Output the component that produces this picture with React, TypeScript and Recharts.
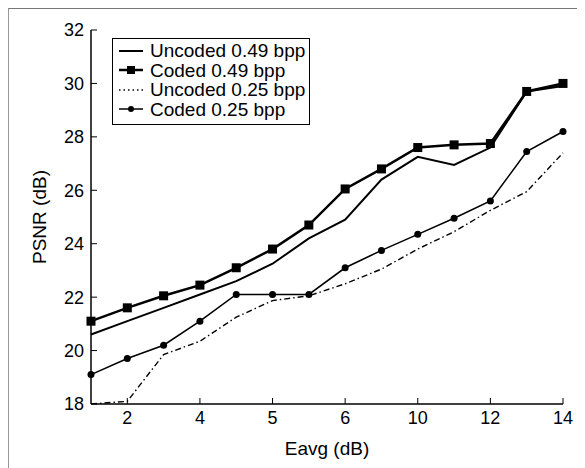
import { LineChart, Line, XAxis, YAxis, Label } from "recharts";

// x positions (index of each Eavg setting) and the labels printed under every other one
const eavgPos = [1, 2, 3, 4, 5, 6, 7, 8, 9, 10, 11, 12, 13, 14];
const xTickPos = [2, 4, 6, 8, 10, 12, 14];
const xTickLabels = ["2", "4", "5", "6", "10", "12", "14"];
const yTicks = [18, 20, 22, 24, 26, 28, 30, 32];

const uncoded049 = [20.6, 21.1, 21.6, 22.1, 22.6, 23.25, 24.2, 24.9, 26.4, 27.25, 26.95, 27.6, 29.7, 29.9];
const coded049 = [21.1, 21.6, 22.05, 22.45, 23.1, 23.8, 24.7, 26.05, 26.8, 27.6, 27.7, 27.75, 29.7, 30.0];
const uncoded025 = [18.0, 18.1, 19.85, 20.35, 21.25, 21.87, 22.05, 22.5, 23.05, 23.8, 24.45, 25.25, 25.95, 27.4];
const coded025 = [19.1, 19.7, 20.2, 21.1, 22.1, 22.1, 22.1, 23.1, 23.75, 24.35, 24.95, 25.6, 27.45, 28.2];

const seriesNames = ["Uncoded 0.49 bpp", "Coded 0.49 bpp", "Uncoded 0.25 bpp", "Coded 0.25 bpp"];

const data = eavgPos.map((x, i) => ({
  x,
  uncoded049: uncoded049[i],
  coded049: coded049[i],
  uncoded025: uncoded025[i],
  coded025: coded025[i],
}));

const FONT = "'Liberation Sans', Arial, Helvetica, sans-serif";
const tickStyle = { fontSize: 18, fill: "#000", fontFamily: FONT };
const DASH_DOT = "6 3 1.5 3";

const SquareDot = (props: any) => {
  const { cx, cy, index } = props;
  if (cx == null || cy == null) return <g key={`sq-${index}`} />;
  return <rect key={`sq-${index}`} x={cx - 4.5} y={cy - 4.5} width={9} height={9} fill="#000" />;
};

function LegendBox() {
  const sample = (i: number) => {
    if (i === 0) return <line x1={2} y1={8} x2={26} y2={8} stroke="#000" strokeWidth={2} />;
    if (i === 1)
      return (
        <>
          <line x1={2} y1={8} x2={26} y2={8} stroke="#000" strokeWidth={2.5} />
          <rect x={10} y={4} width={8} height={8} fill="#000" />
        </>
      );
    if (i === 2) return <line x1={2} y1={8} x2={26} y2={8} stroke="#000" strokeWidth={1.3} strokeDasharray="1.5 3" />;
    return (
      <>
        <line x1={2} y1={8} x2={26} y2={8} stroke="#000" strokeWidth={1.5} />
        <circle cx={14} cy={8} r={3} fill="#000" />
      </>
    );
  };
  return (
    <div
      style={{
        position: "absolute",
        left: 103,
        top: 29,
        width: 192,
        border: "1.5px solid #000",
        background: "#fff",
        padding: "2px 0 5px 4px",
        fontFamily: FONT,
        fontSize: 19,
        lineHeight: "19.5px",
      }}
    >
      {seriesNames.map((name, i) => (
        <div key={name} style={{ display: "flex", alignItems: "center", whiteSpace: "nowrap" }}>
          <svg width={30} height={16} style={{ marginRight: 3 }}>
            {sample(i)}
          </svg>
          <span>{name}</span>
        </div>
      ))}
    </div>
  );
}

export default function App() {
  return (
    <div
      style={{
        position: "relative",
        width: 577,
        height: 460,
        fontFamily: FONT,
        borderTop: "1px solid #777",
        borderLeft: "1px solid #999",
        boxSizing: "border-box",
      }}
    >
      <LineChart width={577} height={460} data={data} margin={{ top: 21, right: 23, bottom: 5, left: 7 }}>
        <XAxis
          xAxisId="bottom"
          dataKey="x"
          type="number"
          domain={[1, 14]}
          ticks={xTickPos}
          tickFormatter={(v: number) => xTickLabels[xTickPos.indexOf(v)] ?? ""}
          height={60}
          tickSize={-6}
          tickMargin={13}
          tick={tickStyle}
          axisLine={{ stroke: "#000", strokeWidth: 1.5 }}
          tickLine={{ stroke: "#000", strokeWidth: 1 }}
        >
          <Label
            content={(props: any) => {
              const vb = props.viewBox || { x: 0, y: 0, width: 0 };
              return (
                <text x={vb.x + vb.width / 2} y={vb.y + 51} textAnchor="middle" fontSize={19} fontFamily={FONT} fill="#000">
                  Eavg (dB)
                </text>
              );
            }}
          />
        </XAxis>
        <XAxis
          xAxisId="top"
          orientation="top"
          dataKey="x"
          type="number"
          domain={[1, 14]}
          ticks={xTickPos}
          tickFormatter={() => ""}
          height={0}
          tickSize={-6}
          axisLine={{ stroke: "#000", strokeWidth: 1.5 }}
          tickLine={{ stroke: "#000", strokeWidth: 1 }}
        />
        <YAxis
          yAxisId="left"
          type="number"
          domain={[18, 32]}
          ticks={yTicks}
          allowDataOverflow
          width={75}
          tickSize={-6}
          tickMargin={13}
          tick={tickStyle}
          axisLine={{ stroke: "#000", strokeWidth: 1.5 }}
          tickLine={{ stroke: "#000", strokeWidth: 1 }}
        >
          <Label
            content={(props: any) => {
              const vb = props.viewBox || { x: 0, y: 0, height: 0 };
              const cx = vb.x + 23;
              const cy = vb.y + vb.height / 2;
              return (
                <text
                  x={cx}
                  y={cy}
                  transform={`rotate(-90 ${cx} ${cy})`}
                  textAnchor="middle"
                  dominantBaseline="central"
                  fontSize={19}
                  fontFamily={FONT}
                  fill="#000"
                >
                  PSNR (dB)
                </text>
              );
            }}
          />
        </YAxis>
        <YAxis
          yAxisId="right"
          orientation="right"
          type="number"
          domain={[18, 32]}
          ticks={yTicks}
          width={0}
          tickSize={-6}
          tickFormatter={() => ""}
          axisLine={{ stroke: "#000", strokeWidth: 1.5 }}
          tickLine={{ stroke: "#000", strokeWidth: 1 }}
        />
        <Line
          xAxisId="bottom"
          yAxisId="left"
          dataKey="uncoded025"
          name={seriesNames[2]}
          stroke="#000"
          strokeWidth={1.4}
          strokeDasharray={DASH_DOT}
          dot={false}
          isAnimationActive={false}
        />
        <Line
          xAxisId="bottom"
          yAxisId="left"
          dataKey="coded025"
          name={seriesNames[3]}
          stroke="#000"
          strokeWidth={1.6}
          dot={{ r: 3.5, fill: "#000", stroke: "#000", strokeWidth: 0 }}
          isAnimationActive={false}
        />
        <Line
          xAxisId="bottom"
          yAxisId="left"
          dataKey="uncoded049"
          name={seriesNames[0]}
          stroke="#000"
          strokeWidth={2}
          dot={false}
          isAnimationActive={false}
        />
        <Line
          xAxisId="bottom"
          yAxisId="left"
          dataKey="coded049"
          name={seriesNames[1]}
          stroke="#000"
          strokeWidth={2.5}
          dot={SquareDot}
          isAnimationActive={false}
        />
      </LineChart>
      <LegendBox />
    </div>
  );
}
